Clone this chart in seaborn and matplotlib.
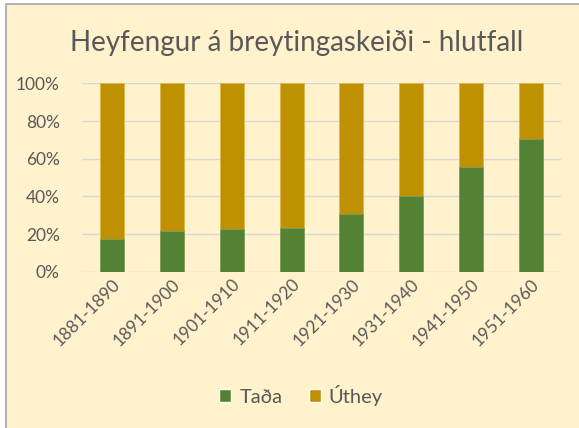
import numpy as np
import pandas as pd
import matplotlib
matplotlib.use("Agg")
import matplotlib.pyplot as plt
from matplotlib.patches import Patch, Rectangle
import seaborn as sns

# Data
timabil = ["1881-1890", "1891-1900", "1901-1910", "1911-1920",
           "1921-1930", "1931-1940", "1941-1950", "1951-1960"]
tada = [17.5, 21.5, 22.5, 23.5, 30.5, 40.5, 55.5, 70.5]
uthey = [82.5, 78.5, 77.5, 76.5, 69.5, 59.5, 44.5, 29.5]

df = pd.DataFrame({"timabil": timabil, "Taða": tada, "Úthey": uthey})
df["samtals"] = df["Taða"] + df["Úthey"]

bg = "#FFF2CC"
green = "#548235"
gold = "#BF9000"
txt = "#595959"

sns.set_theme(style="white")
plt.rcParams["font.family"] = ["Lato", "DejaVu Sans"]

W, H = 579, 428
fig = plt.figure(figsize=(W / 100, H / 100), dpi=100, facecolor="white")

# chart area background with grey border (starts a few px in from the top/left)
fig.patches.append(Rectangle((6 / W, -0.01), 1.02, 1 - 4.5 / H + 0.01,
                             transform=fig.transFigure, facecolor=bg,
                             edgecolor="#A6A6A6", linewidth=1.2, zorder=-10))

ax = fig.add_axes([82 / W, 0.365, 479 / W, 0.44])
ax.set_facecolor(bg)

# Stacked bars: total first, then bottom part on top of it
sns.barplot(data=df, x="timabil", y="samtals", color=gold, width=0.4,
            saturation=1, ax=ax, edgecolor="#D9B84F", linewidth=0.6, zorder=3)
sns.barplot(data=df, x="timabil", y="Taða", color=green, width=0.4,
            saturation=1, ax=ax, edgecolor="#7FA060", linewidth=0.6, zorder=4)

ax.set_ylim(0, 100)
ax.set_xlim(-0.5, len(timabil) - 0.5)
ax.set_yticks(np.arange(0, 101, 20))
ax.set_yticklabels([f"{v}%" for v in range(0, 101, 20)], fontsize=12.5, color=txt)
ax.tick_params(axis="x", labelsize=12.5, labelcolor=txt, length=0, pad=3)
ax.tick_params(axis="y", length=0, pad=16)
plt.setp(ax.get_xticklabels(), rotation=45, ha="right", rotation_mode="anchor")
ax.set_xlabel("")
ax.set_ylabel("")
ax.yaxis.grid(True, color="#D9D9D9", linewidth=1, zorder=0)
ax.set_axisbelow(True)
for s in ax.spines.values():
    s.set_visible(False)

fig.suptitle("Heyfengur á breytingaskeiði - hlutfall", x=0.512, y=0.93,
             fontsize=20, color=txt)

handles = [Patch(facecolor=green, label="Taða"), Patch(facecolor=gold, label="Úthey")]
fig.legend(handles=handles, loc="center", bbox_to_anchor=(0.52, 0.077), ncol=2,
           frameon=False, fontsize=14.5, handlelength=0.6, handleheight=0.6,
           handletextpad=0.4, columnspacing=1.3, labelcolor=txt)

fig.savefig("out.png", dpi=100, facecolor="white")
